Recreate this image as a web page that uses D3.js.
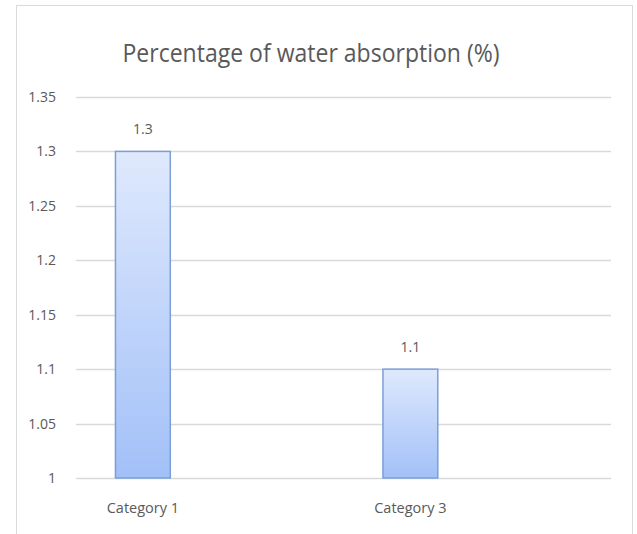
<!DOCTYPE html>
<html>
<head>
<meta charset="utf-8">
<script src="https://cdn.jsdelivr.net/npm/d3@7"></script>
<style>
  body { margin: 0; background: #fff; }
  text { font-family: "Open Sans", sans-serif; fill: #595959; }
</style>
</head>
<body>
<div id="chart"></div>
<script>
// chart data
const categories = ['Category 1', 'Category 2', 'Category 3', 'Category 4'];
const values = [1.3, null, 1.1, null];
const tickLabels = ['Category 1', 'Category 3'];
const yTicks = [1, 1.05, 1.1, 1.15, 1.2, 1.25, 1.3, 1.35];
const title = 'Percentage of water absorption (%)';

const width = 637, height = 534;
const margin = {top: 97, right: 26, bottom: 56, left: 76};

const svg = d3.select('#chart').append('svg')
  .attr('width', width)
  .attr('height', height);

// outer chart frame
svg.append('rect')
  .attr('x', 16.5).attr('y', 5.5)
  .attr('width', 616).attr('height', 540)
  .attr('fill', 'none')
  .attr('stroke', '#d9d9d9');

const grad = svg.append('defs').append('linearGradient')
  .attr('id', 'barFill')
  .attr('x1', 0).attr('y1', 0).attr('x2', 0).attr('y2', 1);
grad.append('stop').attr('offset', '0%').attr('stop-color', '#dfe9fd');
grad.append('stop').attr('offset', '100%').attr('stop-color', '#a2c0f8');

const x = d3.scaleBand()
  .domain(categories)
  .range([margin.left, width - margin.right])
  .paddingInner(0.59)
  .paddingOuter(0.295);

const y = d3.scaleLinear()
  .domain([1, 1.35])
  .range([height - margin.bottom, margin.top]);

// gridlines
svg.append('g')
  .selectAll('line')
  .data(yTicks)
  .join('line')
  .attr('x1', margin.left)
  .attr('x2', width - margin.right)
  .attr('y1', d => Math.round(y(d)) + 0.5)
  .attr('y2', d => Math.round(y(d)) + 0.5)
  .attr('stroke', '#d9d9d9')
  .attr('stroke-width', 1.3);

// y axis labels
const yAxis = svg.append('g')
  .attr('transform', 'translate(56,0)')
  .call(d3.axisLeft(y).tickValues(yTicks).tickSize(0).tickPadding(0).tickFormat(d3.format('')));
yAxis.select('.domain').remove();
yAxis.selectAll('text').attr('font-size', 14);

// x axis labels
const xAxis = svg.append('g')
  .attr('transform', `translate(0,${height - margin.bottom})`)
  .call(d3.axisBottom(x).tickValues(tickLabels).tickSize(0).tickPadding(25));
xAxis.select('.domain').remove();
xAxis.selectAll('text').attr('font-size', 14.5);

const barData = categories.map((c, i) => ({cat: c, val: values[i]})).filter(d => d.val != null);

// bars
svg.append('g')
  .selectAll('rect')
  .data(barData)
  .join('rect')
  .attr('x', d => x(d.cat))
  .attr('y', d => y(d.val))
  .attr('width', x.bandwidth())
  .attr('height', d => y(1) - y(d.val))
  .attr('fill', 'url(#barFill)')
  .attr('stroke', '#7b9fd7')
  .attr('stroke-width', 1.5);

// data labels
svg.append('g')
  .selectAll('text')
  .data(barData)
  .join('text')
  .attr('x', d => x(d.cat) + x.bandwidth() / 2)
  .attr('y', d => y(d.val) - 17)
  .attr('text-anchor', 'middle')
  .attr('font-size', 14)
  .text(d => d.val);

// title
svg.append('text')
  .attr('x', 311)
  .attr('y', 62)
  .attr('text-anchor', 'middle')
  .attr('font-size', 26)
  .attr('textLength', 377)
  .attr('lengthAdjust', 'spacingAndGlyphs')
  .attr('fill', '#6e6e6e')
  .text(title);
</script>
</body>
</html>
